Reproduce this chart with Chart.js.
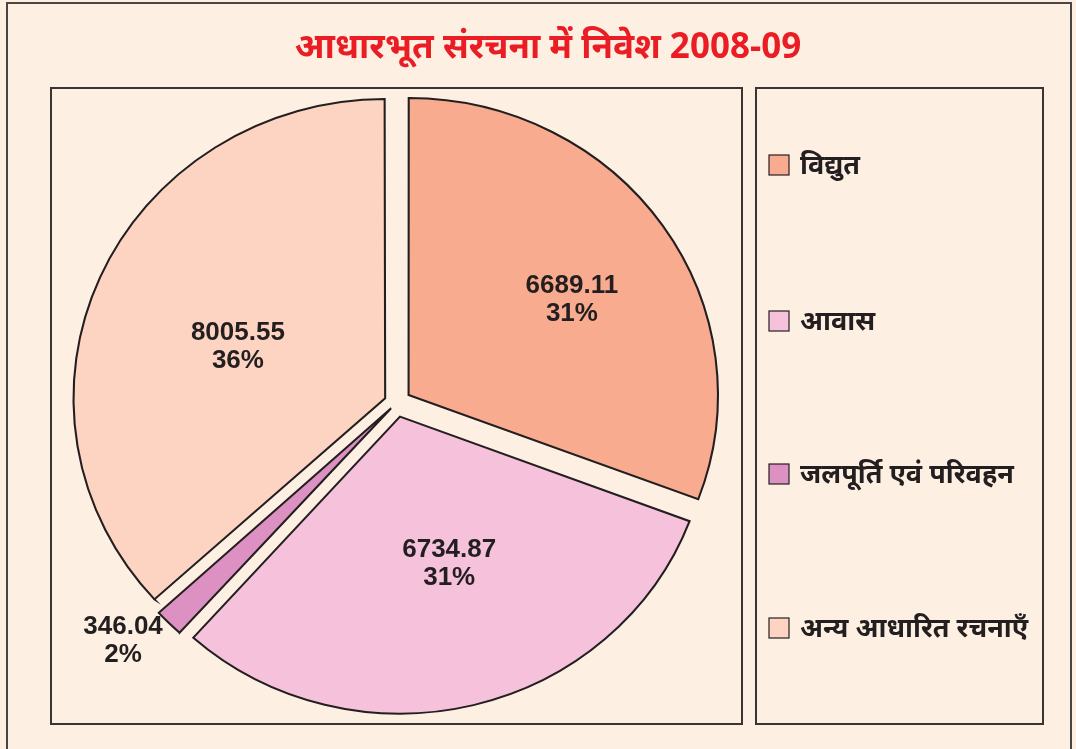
<!DOCTYPE html>
<html><head><meta charset="utf-8">
<script src="https://cdn.jsdelivr.net/npm/chart.js@4.4.1/dist/chart.umd.min.js"></script>
<style>html,body{margin:0;padding:0;background:#fdf0e3;}canvas{display:block}</style>
</head><body>
<canvas id="c" width="1076" height="749"></canvas>
<script>
// ---- data ----
const titleText = 'आधारभूत संरचना में निवेश 2008-09';
const categories = ['विद्युत', 'आवास', 'जलपूर्ति एवं परिवहन', 'अन्य आधारित रचनाएँ'];
const values = [6689.11, 6734.87, 346.04, 8005.55];
const valueLabels = ['6689.11', '6734.87', '346.04', '8005.55'];
const percentLabels = ['31%', '31%', '2%', '36%'];

// ---- style ----
const colors = ['#f9ab8f', '#f6c1db', '#dd90c2', '#fdd3c1'];
const ink = '#231f20';
const SX = 1.042;                 // horizontal stretch of the pie
const shiftPx = [15, 15, 14, 15];  // desired explode distance in px
const labelFrac = [0.667, 0.57, 1.197, 0.548];
const labelDeg = [3.2, -3.7, 3.0, -3.6];
const devFont = '"Noto Sans", "Noto Sans Devanagari", "Lohit Devanagari", "FreeSans", sans-serif';

// Chart.js v4 arc: translate = offset/4 * (1 + (1 - sin(min(PI, circ))))
const total = values.reduce((a, b) => a + b, 0);
const offsets = values.map((v, i) => {
  const circ = v / total * Math.PI * 2;
  const fix = 1 - Math.sin(Math.min(Math.PI, circ));
  return shiftPx[i] * 4 / (1 + fix);
});

const framePlugin = {
  id: 'frame',
  beforeDraw(chart) {
    const ctx = chart.ctx;
    ctx.save();
    ctx.fillStyle = '#fdf0e3';
    ctx.fillRect(0, 0, chart.width, chart.height);
    ctx.strokeStyle = '#4a4444';
    ctx.lineWidth = 2;
    ctx.strokeRect(7, 3, 1064, 770);
    ctx.strokeStyle = '#3a3434';
    ctx.strokeRect(51, 88, 691, 636);
    ctx.strokeRect(756, 88, 287, 636);
    // title
    ctx.fillStyle = '#ea1d25';
    ctx.font = 'bold 35px ' + devFont;
    ctx.textAlign = 'center';
    ctx.textBaseline = 'alphabetic';
    ctx.fillText(titleText, 548, 58);
    // legend
    const ys = [165, 321, 474, 628];
    ctx.textAlign = 'left';
    ctx.textBaseline = 'middle';
    ctx.font = 'bold 27px ' + devFont;
    categories.forEach((c, i) => {
      ctx.fillStyle = colors[i];
      ctx.fillRect(769, ys[i] - 10, 20, 20);
      ctx.strokeStyle = ink; ctx.lineWidth = 1.2;
      ctx.strokeRect(769, ys[i] - 10, 20, 20);
      ctx.fillStyle = ink;
      ctx.fillText(c, 800, ys[i] + 1);
    });
    ctx.restore();
  }
};

function center(chart) {
  const a = chart.chartArea;
  return { x: (a.left + a.right) / 2, y: (a.top + a.bottom) / 2 };
}

const stretchPlugin = {
  id: 'stretch',
  beforeDatasetsDraw(chart) {
    const c = center(chart);
    chart.ctx.save();
    chart.ctx.translate(c.x, 0);
    chart.ctx.scale(SX, 1);
    chart.ctx.translate(-c.x, 0);
  },
  afterDatasetsDraw(chart) {
    chart.ctx.restore();
  }
};

const labelPlugin = {
  id: 'labels',
  afterDraw(chart) {
    const ctx = chart.ctx;
    const c = center(chart);
    const meta = chart.getDatasetMeta(0);
    ctx.save();
    ctx.fillStyle = ink;
    ctx.font = 'bold 26px "Liberation Sans", Arial, sans-serif';
    ctx.textAlign = 'center';
    ctx.textBaseline = 'middle';
    meta.data.forEach((arc, i) => {
      const p = arc.getProps(['x', 'y', 'startAngle', 'endAngle', 'outerRadius'], true);
      const mid = (p.startAngle + p.endAngle) / 2 + labelDeg[i] * Math.PI / 180;
      const d = p.outerRadius * labelFrac[i];
      const lx = c.x + (p.x + Math.cos(mid) * d - c.x) * SX;
      const ly = p.y + Math.sin(mid) * d;
      ctx.fillText(valueLabels[i], lx, ly - 14);
      ctx.fillText(percentLabels[i], lx, ly + 14);
    });
    ctx.restore();
  }
};

new Chart(document.getElementById('c'), {
  type: 'pie',
  data: {
    labels: categories,
    datasets: [{
      data: values,
      backgroundColor: colors,
      borderColor: ink,
      borderWidth: 2,
      borderJoinStyle: 'miter',
      offset: offsets,
      hoverOffset: 0,
      clip: false
    }]
  },
  options: {
    responsive: false,
    devicePixelRatio: 1,
    animation: false,
    events: [],
    radius: 296,
    layout: { padding: { left: 50, right: 333, top: 60, bottom: 3 } },
    plugins: { legend: { display: false }, title: { display: false }, tooltip: { enabled: false } }
  },
  plugins: [framePlugin, stretchPlugin, labelPlugin]
});
</script>
</body></html>
